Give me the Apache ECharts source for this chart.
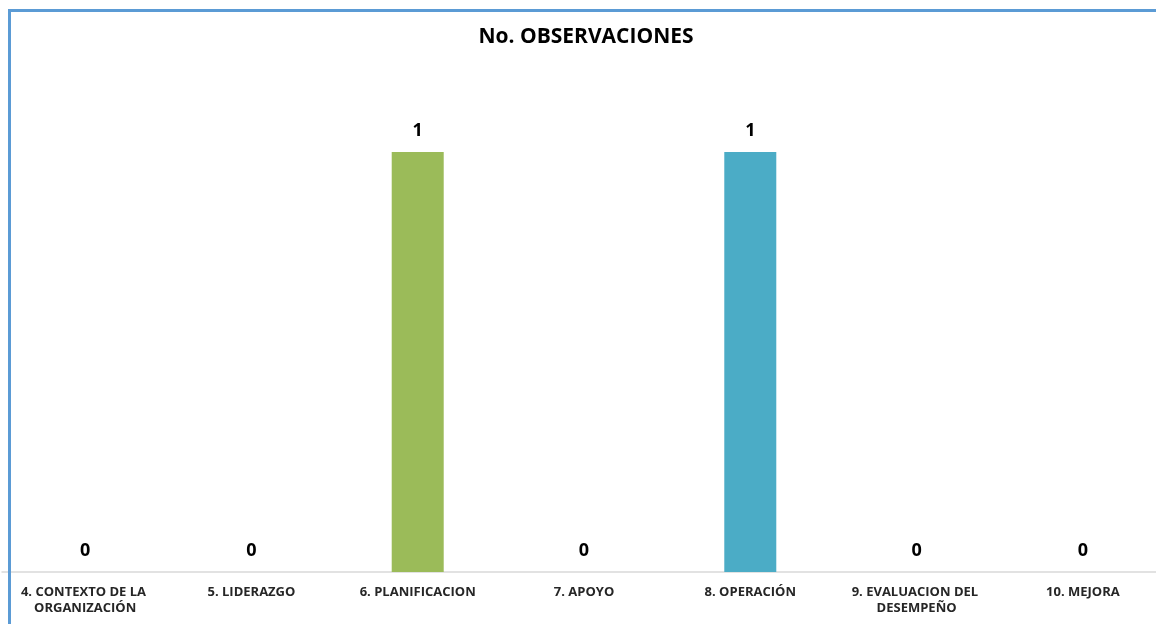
<!DOCTYPE html>
<html><head><meta charset="utf-8">
<script src="https://cdn.jsdelivr.net/npm/echarts@6/dist/echarts.min.js"></script>
<style>html,body{margin:0;padding:0;background:#fff;overflow:hidden}#c{width:1156px;height:624px}</style>
</head><body><div id="c"></div>
<script>
const categories = ["4. CONTEXTO DE LA ORGANIZACIÓN","5. LIDERAZGO","6. PLANIFICACION","7. APOYO","8. OPERACIÓN","9. EVALUACION DEL DESEMPEÑO","10. MEJORA"];
const observaciones = [0,0,1,0,1,0,0];
const barColors = ["#4F81BD","#C0504D","#9BBB59","#8064A2","#4BACC6","#F79646","#2C4D75"];
const titleText = "No. OBSERVACIONES";
const FONT = "'Open Sans',sans-serif";
const chart = echarts.init(document.getElementById('c'));
chart.setOption({
  animation:false,
  title:{text:titleText,left:581,textAlign:'center',top:22,textStyle:{fontFamily:FONT,fontWeight:'bold',fontSize:21,color:'#000'}},
  grid:{left:2,width:1164,top:152,bottom:52,containLabel:false,outerBoundsMode:'none'},
  xAxis:{type:'category',data:categories,
    axisLine:{lineStyle:{color:'#D9D9D9',width:1.5}},axisTick:{show:false},
    axisLabel:{interval:0,margin:12,width:140,overflow:'break',lineHeight:16,fontFamily:FONT,fontWeight:'bold',fontSize:13,color:'#262626'}},
  yAxis:{type:'value',min:0,max:1,show:false,splitLine:{show:false}},
  series:[{type:'bar',barWidth:52,
    data:observaciones.map((v,i)=>({value:v,itemStyle:{color:barColors[i]}})),
    label:{show:true,position:'top',distance:12,fontFamily:FONT,fontWeight:'bold',fontSize:18,color:'#000'}}],
  graphic:[{type:'rect',z:100,shape:{x:9.5,y:10.5,width:1300,height:800},style:{fill:null,stroke:'#5B9BD5',lineWidth:3}}]
});
</script></body></html>
